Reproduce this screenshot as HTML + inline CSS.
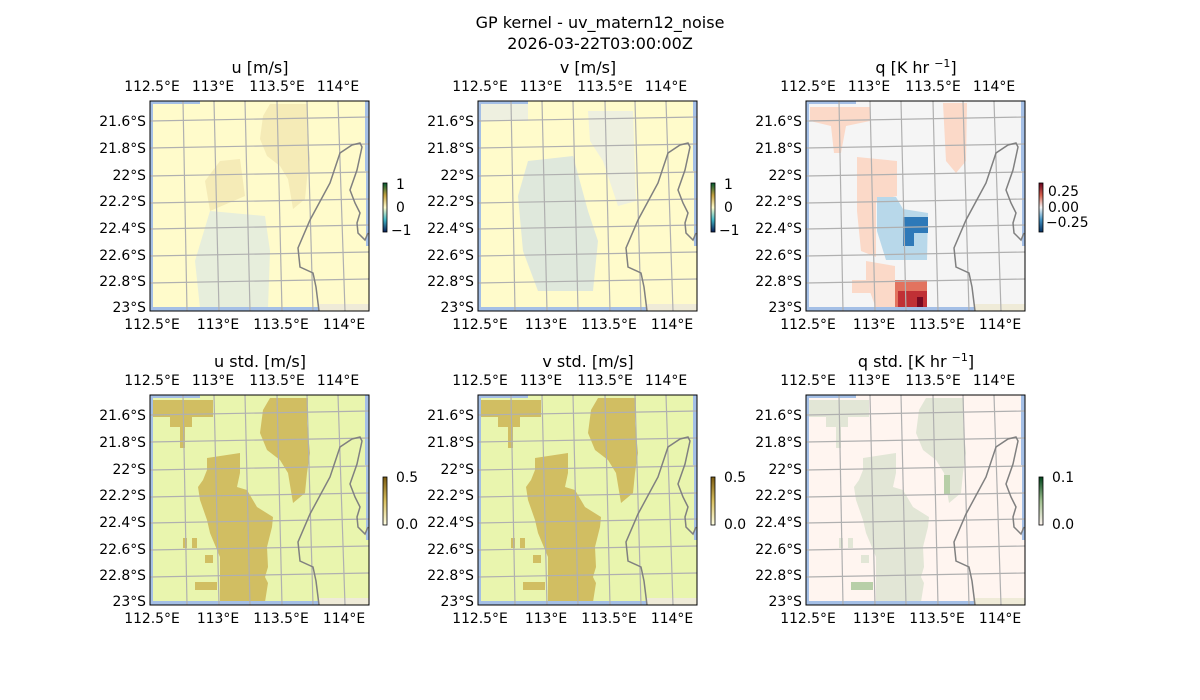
<!DOCTYPE html>
<html><head><meta charset="utf-8"><style>
html,body{margin:0;padding:0;background:#fff;}
svg{display:block;font-family:"DejaVu Sans","Liberation Sans",sans-serif;}
</style></head><body>
<svg width="1200" height="700" viewBox="0 0 1200 700" xmlns="http://www.w3.org/2000/svg">
<defs>
<linearGradient id="guv" x1="0" y1="1" x2="0" y2="0"><stop offset="0" stop-color="#081d58"/><stop offset="0.25" stop-color="#41b6c4"/><stop offset="0.5" stop-color="#fffccc"/><stop offset="0.75" stop-color="#c2a040"/><stop offset="1" stop-color="#005a32"/></linearGradient>
<linearGradient id="gq" x1="0" y1="1" x2="0" y2="0"><stop offset="0" stop-color="#053061"/><stop offset="0.25" stop-color="#4393c3"/><stop offset="0.5" stop-color="#f7f7f7"/><stop offset="0.75" stop-color="#d6604d"/><stop offset="1" stop-color="#67001f"/></linearGradient>
<linearGradient id="gs" x1="0" y1="1" x2="0" y2="0"><stop offset="0" stop-color="#ffffe5"/><stop offset="0.5" stop-color="#d9c060"/><stop offset="1" stop-color="#7a5a10"/></linearGradient>
<linearGradient id="gqs" x1="0" y1="1" x2="0" y2="0"><stop offset="0" stop-color="#fff5f0"/><stop offset="0.5" stop-color="#a0c090"/><stop offset="1" stop-color="#00441b"/></linearGradient>
<g id="edge">
<rect x="0" y="0" width="3" height="210" fill="#a4bfe6"/>
<rect x="0" y="206" width="168" height="4" fill="#a4bfe6"/>
<rect x="168" y="203" width="51" height="7" fill="#efebd8"/>
<rect x="0" y="0" width="50" height="3" fill="#a4bfe6"/>
<rect x="215" y="0" width="4" height="70" fill="#a4bfe6"/>
<rect x="216" y="70" width="3" height="75" fill="#a4bfe6"/>
</g>
<g id="grid" stroke="#b0b0b0" stroke-width="1.2" fill="none">
<line x1="33" y1="0" x2="37" y2="210"/><line x1="64" y1="0" x2="69" y2="210"/>
<line x1="95" y1="0" x2="100" y2="210"/><line x1="127" y1="0" x2="132" y2="210"/>
<line x1="157" y1="0" x2="163" y2="210"/><line x1="188" y1="0" x2="195" y2="210"/>
<line x1="0" y1="20" x2="219" y2="16"/><line x1="0" y1="47" x2="219" y2="43"/>
<line x1="0" y1="75" x2="219" y2="71"/><line x1="0" y1="102" x2="219" y2="98"/>
<line x1="0" y1="128" x2="219" y2="124"/><line x1="0" y1="155" x2="219" y2="151"/>
<line x1="0" y1="182" x2="219" y2="178"/>
</g>
<path id="coast" d="M169,210 L166,186 L163,172 L150,166 L148,147 L160,119 L180,82 L190,52 L202,44 L210,42 L212,46 L207,69 L200,89 L205,102 L210,112 L207,122 L208,132 L215,139 L218,132" fill="none" stroke="#808080" stroke-width="1.5"/>
<g id="blobs">
<polygon points="2,5 63,5 63,22 42,22 42,32 35,32 35,53 30,53 30,32 20,32 20,22 2,22"/>
<polygon points="120,3 158,3 157,28 160,58 157,78 155,98 143,108 138,78 130,65 117,55 110,38 113,15"/>
<polygon points="57,63 90,58 90,78 87,92 97,95 107,112 123,122 122,132 117,152 118,172 115,182 118,188 115,207 70,207 70,182 70,162 60,138 57,125 50,105 48,92 53,85 57,75"/>
<rect x="45" y="187" width="22" height="8"/><rect x="33" y="143" width="4" height="10"/><rect x="42" y="143" width="5" height="10"/><rect x="55" y="160" width="8" height="8"/>
</g>
<g id="ticks" font-size="13.9" fill="#000">
<g text-anchor="end">
<text x="-4" y="25">21.6°S</text><text x="-4" y="52">21.8°S</text><text x="-4" y="79">22°S</text><text x="-4" y="105">22.2°S</text><text x="-4" y="132">22.4°S</text><text x="-4" y="159">22.6°S</text><text x="-4" y="185">22.8°S</text><text x="-4" y="211">23°S</text>
</g>
<g text-anchor="middle">
<text x="2" y="-10">112.5°E</text><text x="63" y="-10">113°E</text><text x="127" y="-10">113.5°E</text><text x="188" y="-10">114°E</text>
<text x="2" y="228">112.5°E</text><text x="68" y="228">113°E</text><text x="131" y="228">113.5°E</text><text x="194" y="228">114°E</text>
</g>
</g>
</defs>

<text x="600" y="28" font-size="16" text-anchor="middle">GP kernel - uv_matern12_noise</text>
<text x="600" y="49" font-size="16" text-anchor="middle">2026-03-22T03:00:00Z</text>

<!-- u -->
<g transform="translate(150,101)">
<rect width="219" height="210" fill="#fffbcb"/>
<g fill="#f3e7b2" opacity="0.8"><polygon points="120,3 158,3 157,28 160,58 157,78 155,98 143,108 138,78 130,65 117,55 110,38 113,15"/><polygon points="70,60 90,58 95,95 60,110 55,80"/></g>
<polygon points="60,110 115,115 120,150 118,207 50,207 45,160" fill="#e7eedc"/>
<use href="#edge"/><use href="#grid"/><use href="#coast"/>
<rect width="219" height="210" fill="none" stroke="#000" stroke-width="1"/>
<use href="#ticks"/>
<text x="110" y="-28" font-size="16" text-anchor="middle">u [m/s]</text>
</g>
<!-- v -->
<g transform="translate(478,101)">
<rect width="219" height="210" fill="#fffbcb"/>
<g fill="#eef0e0"><polygon points="0,0 50,0 50,20 0,20"/><polygon points="110,10 155,10 158,100 140,105 125,60 112,40"/></g>
<polygon points="50,60 95,55 110,110 120,140 115,190 60,190 45,150 40,95" fill="#dfe8dc"/>
<use href="#edge"/><use href="#grid"/><use href="#coast"/>
<rect width="219" height="210" fill="none" stroke="#000" stroke-width="1"/>
<use href="#ticks"/>
<text x="110" y="-28" font-size="16" text-anchor="middle">v [m/s]</text>
</g>
<!-- q -->
<g transform="translate(806,101)">
<rect width="219" height="210" fill="#f5f5f5"/>
<g fill="#fbd9c8"><polygon points="4,6 64,6 64,20 40,25 35,52 28,52 25,25 4,20"/><polygon points="137,2 161,2 160,60 150,72 140,60"/><polygon points="51,56 91,60 91,95 70,100 70,156 55,150 51,110"/><polygon points="46,179 74,179 74,192 46,192"/><polygon points="60,160 89,165 89,207 70,207 60,180"/></g>
<polygon points="71,96 90,96 97,108 122,112 121,159 80,159 71,130" fill="#b8d8ea"/>
<polygon points="97,116 122,116 122,132 108,132 108,145 97,145" fill="#2e79b8"/>
<polygon points="89,179 121,179 121,206 89,206" fill="#e2735f"/>
<polygon points="92,190 121,190 121,206 92,206" fill="#c03035"/>
<rect x="111" y="196" width="6" height="10" fill="#780a22"/>
<use href="#edge"/><use href="#grid"/><use href="#coast"/>
<rect width="219" height="210" fill="none" stroke="#000" stroke-width="1"/>
<use href="#ticks"/>
<text x="110" y="-28" font-size="16" text-anchor="middle">q [K hr <tspan font-size="11" dy="-6">−1</tspan><tspan dy="6">]</tspan></text>
</g>
<!-- u std -->
<g transform="translate(150,395)">
<rect width="219" height="210" fill="#e9f5ae"/>
<use href="#blobs" fill="#d1be62"/>
<use href="#edge"/><use href="#grid"/><use href="#coast"/>
<rect width="219" height="210" fill="none" stroke="#000" stroke-width="1"/>
<use href="#ticks"/>
<text x="110" y="-28" font-size="16" text-anchor="middle">u std. [m/s]</text>
</g>
<!-- v std -->
<g transform="translate(478,395)">
<rect width="219" height="210" fill="#e9f5ae"/>
<use href="#blobs" fill="#d1be62"/>
<use href="#edge"/><use href="#grid"/><use href="#coast"/>
<rect width="219" height="210" fill="none" stroke="#000" stroke-width="1"/>
<use href="#ticks"/>
<text x="110" y="-28" font-size="16" text-anchor="middle">v std. [m/s]</text>
</g>
<!-- q std -->
<g transform="translate(806,395)">
<rect width="219" height="210" fill="#fff5f0"/>
<use href="#blobs" fill="#e2e6d6"/>
<g fill="#b8cfa8"><rect x="45" y="187" width="22" height="8"/><rect x="138" y="80" width="6" height="20"/></g>
<use href="#edge"/><use href="#grid"/><use href="#coast"/>
<rect width="219" height="210" fill="none" stroke="#000" stroke-width="1"/>
<use href="#ticks"/>
<text x="110" y="-28" font-size="16" text-anchor="middle">q std. [K hr <tspan font-size="11" dy="-6">−1</tspan><tspan dy="6">]</tspan></text>
</g>

<!-- colorbars -->
<g font-size="13.9">
<rect x="383" y="183" width="4" height="49" fill="url(#guv)" stroke="#000" stroke-width="0.8"/>
<text x="396" y="189">1</text><text x="396" y="212">0</text><text x="391" y="235">−1</text>
<rect x="711" y="183" width="4" height="49" fill="url(#guv)" stroke="#000" stroke-width="0.8"/>
<text x="724" y="189">1</text><text x="724" y="212">0</text><text x="719" y="235">−1</text>
<rect x="1039" y="183" width="4" height="49" fill="url(#gq)" stroke="#000" stroke-width="0.8"/>
<text x="1048" y="196">0.25</text><text x="1048" y="212">0.00</text><text x="1046" y="227">−0.25</text>
<rect x="383" y="477" width="4" height="48" fill="url(#gs)" stroke="#000" stroke-width="0.8"/>
<text x="396" y="482">0.5</text><text x="396" y="529">0.0</text>
<rect x="711" y="477" width="4" height="48" fill="url(#gs)" stroke="#000" stroke-width="0.8"/>
<text x="724" y="482">0.5</text><text x="724" y="529">0.0</text>
<rect x="1039" y="477" width="4" height="48" fill="url(#gqs)" stroke="#000" stroke-width="0.8"/>
<text x="1052" y="482">0.1</text><text x="1052" y="529">0.0</text>
</g>
</svg>
</body></html>
